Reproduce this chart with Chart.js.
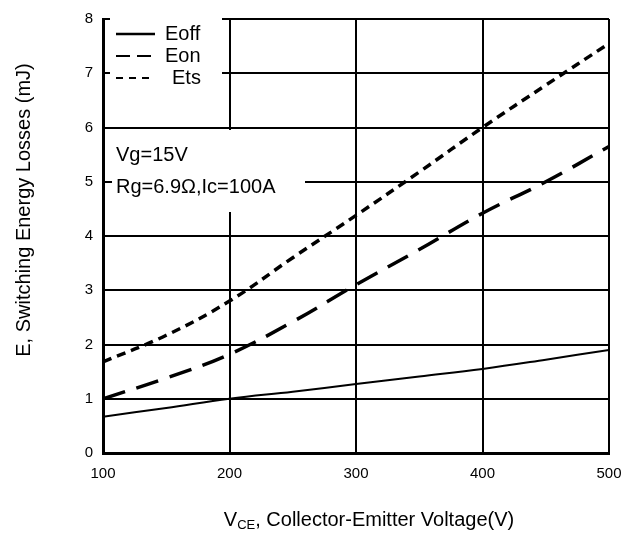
<!DOCTYPE html>
<html>
<head>
<meta charset="utf-8">
<script src="https://cdn.jsdelivr.net/npm/chart.js@4.4.1/dist/chart.umd.min.js"></script>
<style>
  body { margin: 0; background: #fff; }
  canvas { display: block; }
</style>
</head>
<body>
<canvas id="lossChart" width="635" height="533"></canvas>
<script>
// Switching energy vs collector-emitter voltage
const vce = [100, 150, 200, 250, 300, 350, 400, 450, 500];
const eoff = [0.67, 0.83, 1.0, 1.13, 1.27, 1.41, 1.55, 1.72, 1.9];
const eon = [1.0, 1.38, 1.82, 2.42, 3.1, 3.75, 4.42, 5.0, 5.65];
const ets = [1.68, 2.17, 2.8, 3.6, 4.38, 5.18, 6.0, 6.78, 7.55];
const xTicks = [100, 200, 300, 400, 500];
const yTicks = [0, 1, 2, 3, 4, 5, 6, 7, 8];
const notes = ['Vg=15V', 'Rg=6.9\u03A9,Ic=100A'];

const FONT = "'Liberation Sans', Arial, sans-serif";

function pts(ys) {
    return vce.map((x, i) => ({ x: x, y: ys[i] }));
}

// white boxes under the legend and the test conditions, then all the text
const overlay = {
    id: 'overlay',
    beforeDatasetsDraw(chart) {
        const c = chart.ctx;
        c.save();
        c.fillStyle = '#fff';
        c.fillRect(110, 15, 112, 103);
        c.fillRect(112, 130, 193, 82);
        c.restore();
    },
    afterDraw(chart) {
        const c = chart.ctx;
        c.save();
        c.fillStyle = '#000';
        c.strokeStyle = '#000';

        // legend
        const rows = [
            { y: 34, tx: 165, dash: [], w: 2.5 },
            { y: 56, tx: 165, dash: [14, 7], w: 2 },
            { y: 78, tx: 172, dash: [7, 6], w: 2 }
        ];
        c.font = '20px ' + FONT;
        c.textBaseline = 'middle';
        rows.forEach((r, i) => {
            c.lineWidth = r.w;
            c.setLineDash(r.dash);
            c.beginPath();
            c.moveTo(116, r.y);
            c.lineTo(155, r.y);
            c.stroke();
            c.fillText(chart.data.datasets[i].label, r.tx, r.y);
        });
        c.setLineDash([]);

        // test conditions
        c.fillText(notes[0], 116, 155);
        c.fillText(notes[1], 116, 187);

        // x axis title with subscript
        const big = '20px ' + FONT, small = '13px ' + FONT;
        c.font = big;
        const wV = c.measureText('V').width;
        const rest = ', Collector-Emitter Voltage(V)';
        const wRest = c.measureText(rest).width;
        c.font = small;
        const wSub = c.measureText('CE').width;
        let x = 369 - (wV + wSub + wRest) / 2;
        c.textBaseline = 'alphabetic';
        c.font = big;
        c.fillText('V', x, 526);
        x += wV;
        c.font = small;
        c.fillText('CE', x, 529);
        x += wSub;
        c.font = big;
        c.fillText(rest, x, 526);

        // y axis title
        c.translate(24, 210);
        c.rotate(-Math.PI / 2);
        c.textAlign = 'center';
        c.textBaseline = 'middle';
        c.fillText('E, Switching Energy Losses (mJ)', 0, 0);
        c.restore();
    }
};

new Chart(document.getElementById('lossChart'), {
    type: 'line',
    data: {
        datasets: [{
            label: 'Eoff',
            data: pts(eoff),
            borderColor: '#000',
            borderWidth: 2,
            pointRadius: 0,
            tension: 0.4,
            fill: false
        }, {
            label: 'Eon',
            data: pts(eon),
            borderColor: '#000',
            borderWidth: 3.5,
            borderDash: [23, 12],
            pointRadius: 0,
            tension: 0.4,
            fill: false
        }, {
            label: 'Ets',
            data: pts(ets),
            borderColor: '#000',
            borderWidth: 3.5,
            borderDash: [9, 6],
            pointRadius: 0,
            tension: 0.4,
            fill: false
        }]
    },
    options: {
        responsive: false,
        animation: false,
        layout: { padding: { top: 13, right: 26, left: 0, bottom: 0 } },
        plugins: {
            legend: { display: false },
            tooltip: { enabled: false }
        },
        scales: {
            x: {
                type: 'linear',
                min: 100,
                max: 500,
                afterFit(s) { s.height = 80; },
                afterBuildTicks(s) { s.ticks = xTicks.map(v => ({ value: v })); },
                grid: { color: '#000', lineWidth: 2, drawTicks: false },
                border: { color: '#000', width: 3 },
                ticks: { color: '#000', padding: 12, font: { family: FONT, size: 15 }, maxRotation: 0 }
            },
            y: {
                min: 0,
                max: 8,
                afterFit(s) { s.width = 103; },
                afterBuildTicks(s) { s.ticks = yTicks.map(v => ({ value: v })); },
                grid: { color: '#000', lineWidth: 2, drawTicks: false },
                border: { color: '#000', width: 3 },
                ticks: { color: '#000', padding: 10, font: { family: FONT, size: 15 } }
            }
        }
    },
    plugins: [overlay]
});
</script>
</body>
</html>
